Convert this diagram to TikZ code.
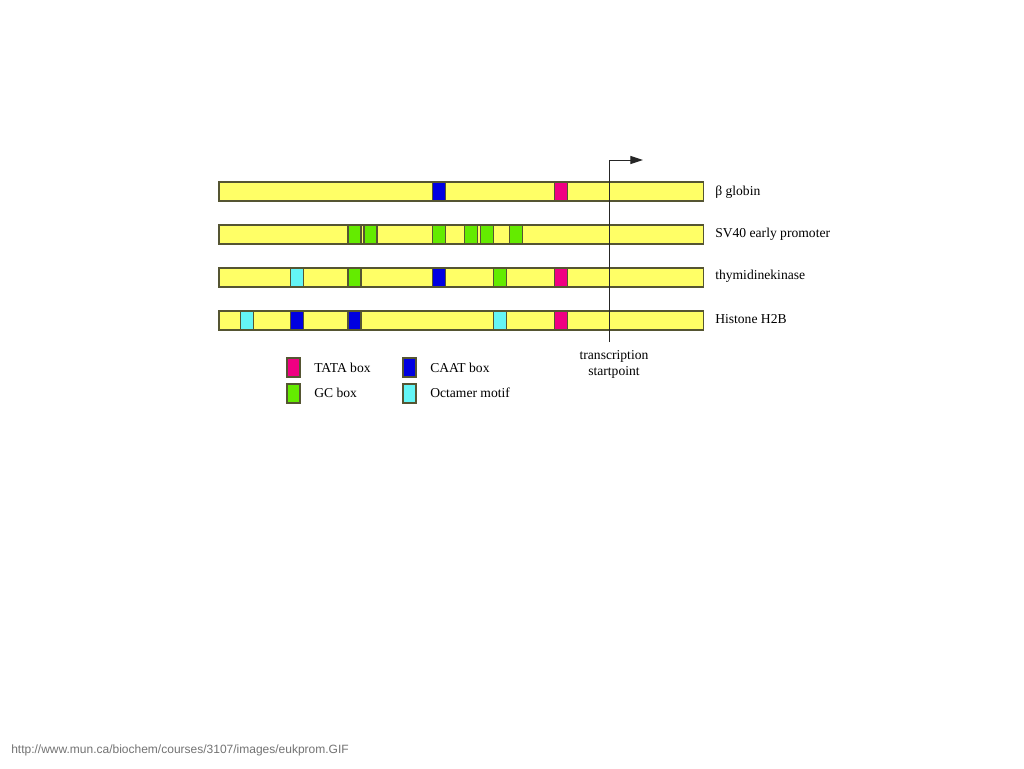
\documentclass[tikz,border=0pt]{standalone}
\usepackage{fontspec}
\setmainfont{Liberation Serif}
\newfontfamily\urlfont{Liberation Sans}
\usetikzlibrary{arrows.meta}
\definecolor{barfill}{RGB}{255,255,102}
\definecolor{edgecol}{RGB}{85,85,50}
\definecolor{tata}{RGB}{240,0,130}
\definecolor{caat}{RGB}{0,0,225}
\definecolor{gc}{RGB}{100,235,0}
\definecolor{octa}{RGB}{100,245,245}
\begin{document}
\begin{tikzpicture}[x=0.75pt,y=-0.75pt,
  seg/.style={draw=edgecol, line width=0.9pt},
  lbl/.style={anchor=west, font=\fontsize{10.2}{12}\selectfont, inner sep=0pt},
  conn/.style={draw=black!85, line width=0.75pt}]
\useasboundingbox (0,0) rectangle (1024,768);
\fill[white] (0,0) rectangle (1024,768);
% bars
\foreach \t in {182,225,268,311}{
  \path[seg, fill=barfill] (219,\t) rectangle (703.5,\t+19);
}
% motifs: x-left / top / colour
\foreach \x/\t/\c in {432.5/182/caat, 554.5/182/tata,
  348/225/gc, 364/225/gc, 432.5/225/gc, 464.5/225/gc, 480.5/225/gc, 509.5/225/gc,
  290.5/268/octa, 348/268/gc, 432.5/268/caat, 493.5/268/gc, 554.5/268/tata,
  240.5/311/octa, 290.5/311/caat, 348/311/caat, 493.5/311/octa, 554.5/311/tata}{
  \path[seg, fill=\c] (\x,\t) rectangle (\x+13,\t+19);
}
% transcription start arrow
\coordinate (startbot) at (609,342);
\coordinate (starttip) at (643,160);
\draw[conn, -{Triangle[length=9.5pt,width=6pt]}] (startbot) |- (starttip);
% gene labels
\node[lbl] (l1) at (715,192) {β globin};
\node[lbl] (l2) at (715,234) {SV40 early promoter};
\node[lbl] (l3) at (715,276) {thymidinekinase};
\node[lbl] (l4) at (715,319) {Histone H2B};
\node[align=center, font=\fontsize{10.2}{12}\selectfont, inner sep=0pt] (tsp) at (614,364) {transcription\\startpoint};
% legend
\path[seg, fill=tata] (287,358) rectangle (300,377);
\path[seg, fill=caat] (403,358) rectangle (416,377);
\path[seg, fill=gc] (287,384) rectangle (300,403);
\path[seg, fill=octa] (403,384) rectangle (416,403);
\node[lbl] (lt) at (314,368) {TATA box};
\node[lbl] (lc) at (430,368) {CAAT box};
\node[lbl] (lg) at (314,393) {GC box};
\node[lbl] (lo) at (430,393) {Octamer motif};
% source
\node[anchor=west, inner sep=0pt, text=black!55, font=\urlfont\fontsize{9}{11}\selectfont] (src) at (11,750) {http://www.mun.ca/biochem/courses/3107/images/eukprom.GIF};
\end{tikzpicture}
\end{document}
